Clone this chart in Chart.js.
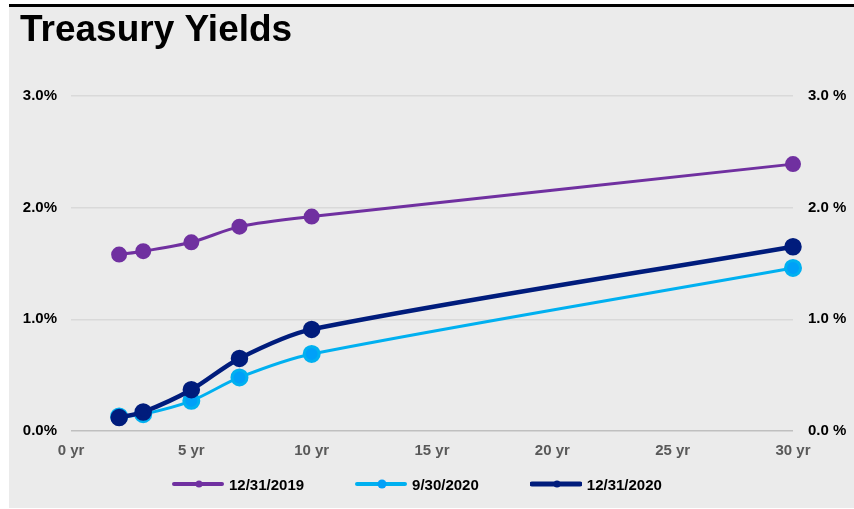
<!DOCTYPE html>
<html>
<head>
<meta charset="utf-8">
<script src="https://cdn.jsdelivr.net/npm/chart.js@4.4.1/dist/chart.umd.min.js"></script>
<style>
  body { margin: 0; background: #fff; font-family: Arial, "Liberation Sans", sans-serif; }
  #panel {
    position: absolute; left: 9px; top: 4px;
    width: 845px; height: 501px;
    background: #ebebeb; border-top: 3px solid #000;
  }
  #panel canvas { display: block; }
  #legend {
    position: absolute; left: 172px; top: 474px; height: 20px;
    display: flex; align-items: center; gap: 51px;
    font-weight: bold; font-size: 15px; color: #000;
  }
  #legend .item { display: flex; align-items: center; }
  #legend canvas { margin-right: 5px; }
</style>
</head>
<body>
<div id="panel"><canvas id="yields" width="845" height="501"></canvas></div>
<div id="legend"></div>
<script>
// maturities in years
const tenors = [2, 3, 5, 7, 10, 30];
const seriesNames = ["12/31/2019", "9/30/2020", "12/31/2020"];
const yields2019 = [1.58, 1.61, 1.69, 1.83, 1.92, 2.39];
const yieldsSep2020 = [0.13, 0.15, 0.27, 0.48, 0.69, 1.46];
const yieldsDec2020 = [0.12, 0.17, 0.37, 0.65, 0.91, 1.65];
const xTicks = [0, 5, 10, 15, 20, 25, 30];
const yTicks = [0, 1, 2, 3];

const FONT = 'Arial, "Liberation Sans", sans-serif';

function points(vals) {
    return tenors.map((t, i) => ({x: t, y: vals[i]}));
}

const chart = new Chart(document.getElementById('yields'), {
    type: 'line',
    data: {
        datasets: [
            {
                label: seriesNames[0],
                data: points(yields2019),
                borderColor: '#7030a0',
                backgroundColor: '#7030a0',
                borderWidth: 3,
                pointRadius: 6.5,
                order: 2
            },
            {
                label: seriesNames[1],
                data: points(yieldsSep2020),
                borderColor: '#00b0f0',
                backgroundColor: '#00a0f8',
                borderWidth: 3,
                pointRadius: 7.5,
                order: 1
            },
            {
                label: seriesNames[2],
                data: points(yieldsDec2020),
                borderColor: '#001c7c',
                backgroundColor: '#001c7c',
                borderWidth: 4.5,
                pointRadius: 6.5,
                order: 0
            }
        ]
    },
    options: {
        responsive: false,
        animation: false,
        clip: false,
        elements: {
            point: {borderWidth: 0, hoverRadius: 7},
            line: {tension: 0.3}
        },
        layout: {padding: {left: 11, right: 0, top: 0, bottom: 47}},
        scales: {
            x: {
                type: 'linear',
                min: 0, max: 30,
                afterBuildTicks: s => { s.ticks = xTicks.map(v => ({value: v})); },
                afterFit: s => { s.height = 30; },
                grid: {display: false, drawTicks: false},
                border: {display: false},
                ticks: {
                    padding: 11,
                    color: '#595959',
                    font: {family: FONT, size: 15, weight: 'bold'},
                    callback: v => v + ' yr'
                }
            },
            y: {
                position: 'left',
                min: 0, max: 3,
                afterBuildTicks: s => { s.ticks = yTicks.map(v => ({value: v})); },
                afterFit: s => { s.width = 51; },
                border: {display: false},
                grid: {
                    drawTicks: false,
                    lineWidth: 1.5,
                    color: c => c.tick && c.tick.value === 0 ? '#bfbfbf' : '#d9d9d9'
                },
                ticks: {
                    padding: 14,
                    color: '#000',
                    font: {family: FONT, size: 15, weight: 'bold'},
                    callback: v => v.toFixed(1) + '%'
                }
            },
            y2: {
                position: 'right',
                min: 0, max: 3,
                afterBuildTicks: s => { s.ticks = yTicks.map(v => ({value: v})); },
                afterFit: s => { s.width = 61; },
                border: {display: false},
                grid: {display: false, drawTicks: false},
                ticks: {
                    padding: 15,
                    color: '#000',
                    font: {family: FONT, size: 15, weight: 'bold'},
                    callback: v => v.toFixed(1) + ' %'
                }
            }
        },
        plugins: {
            title: {
                display: true,
                text: 'Treasury Yields',
                align: 'start',
                color: '#000',
                font: {family: FONT, size: 37, weight: 'bold', lineHeight: 1.2},
                padding: {top: 2, bottom: 42.6}
            },
            legend: {display: false},
            tooltip: {enabled: false}
        }
    }
});

// legend: line-with-dot swatch next to each series name
const swatchStyle = [
    {line: '#7030a0', dot: '#7030a0', w: 4, r: 3.5},
    {line: '#00b0f0', dot: '#00a0f8', w: 4, r: 4.5},
    {line: '#001c7c', dot: '#001c7c', w: 5, r: 3.5}
];
const legendEl = document.getElementById('legend');
chart.data.datasets.forEach((ds, i) => {
    const st = swatchStyle[i];
    const item = document.createElement('div');
    item.className = 'item';
    const c = document.createElement('canvas');
    c.width = 52; c.height = 12;
    const g = c.getContext('2d');
    g.strokeStyle = st.line;
    g.lineWidth = st.w;
    g.lineCap = 'round';
    g.beginPath();
    g.moveTo(2, 6); g.lineTo(50, 6);
    g.stroke();
    g.fillStyle = st.dot;
    g.beginPath();
    g.arc(27, 6, st.r, 0, Math.PI * 2);
    g.fill();
    const label = document.createElement('span');
    label.textContent = ds.label;
    item.appendChild(c);
    item.appendChild(label);
    legendEl.appendChild(item);
});
</script>
</body>
</html>
